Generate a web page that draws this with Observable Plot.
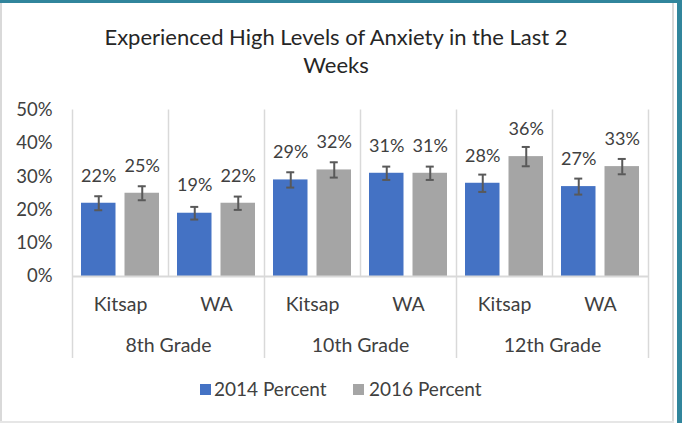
<!DOCTYPE html>
<html>
<head>
<meta charset="utf-8">
<script src="https://cdn.jsdelivr.net/npm/d3@7"></script>
<script src="https://cdn.jsdelivr.net/npm/@observablehq/plot@0.6"></script>
<style>
  html, body { margin: 0; padding: 0; background: #fff; }
  #wrap { position: relative; width: 682px; height: 423px; overflow: hidden; background: #fff; font-family: Lato, "Open Sans", sans-serif; }
  #title { position: absolute; left: 0; top: 23px; width: 672px; text-align: center; font-size: 22px; line-height: 28px; color: #262626; }
  #chart { position: absolute; left: 0; top: 90px; }
  #legend { position: absolute; left: 0; top: 378px; width: 682px; height: 22px; font-size: 19px; color: #404040; }
  .sw { position: absolute; top: 6px; width: 11px; height: 11px; }
  .lt { position: absolute; top: 0; line-height: 22px; white-space: nowrap; }
  .deco { position: absolute; }
</style>
</head>
<body>
<div id="wrap">
  <div class="deco" style="left:0;top:0;width:682px;height:3px;background:#31859c;"></div>
  <div class="deco" style="left:677px;top:0;width:5px;height:423px;background:#31859c;"></div>
  <div class="deco" style="left:672px;top:3px;width:2px;height:420px;background:#d9d9d9;"></div>
  <div class="deco" style="left:0;top:3px;width:2px;height:420px;background:#d9d9d9;"></div>
  <div class="deco" style="left:0;top:421px;width:674px;height:2px;background:#e6e6e6;"></div>
  <div id="title">Experienced High Levels of Anxiety in the Last 2<br>Weeks</div>
  <div id="chart"></div>
  <div id="legend"></div>
</div>
<script>
// ---- data ----
const grades = ["8th Grade", "10th Grade", "12th Grade"];
const regions = ["Kitsap", "WA"];
const series = ["2014 Percent", "2016 Percent"];
const pct2014 = [22, 19, 29, 31, 28, 27];
const pct2016 = [25, 22, 32, 31, 36, 33];
const err2014 = [2.1, 1.9, 2.3, 2.0, 2.6, 2.4];
const err2016 = [2.1, 2.0, 2.3, 2.0, 2.9, 2.3];
const yTicks = [0, 10, 20, 30, 40, 50];
const colors = ["#4472C4", "#A5A5A5"];

// ---- table built from the arrays ----
const rows = [];
grades.forEach((g, gi) => regions.forEach((r, ri) => {
  const i = gi * regions.length + ri;
  rows.push({key: g + "|" + r, grade: g, region: r, first: ri === 0,
    v2014: pct2014[i], v2016: pct2016[i], e2014: err2014[i], e2016: err2016[i]});
}));
const keys = rows.map(d => d.key);

// ---- layout ----
const W = 682, H = 285, mL = 72, mR = 34, mT = 19.5, mB = 99;
const bw = (W - mL - mR) / keys.length;       // band width
const pad = 9, barW = (bw - 3 * pad) / 2;      // bar geometry inside a band
const off = pad + barW / 2 - bw / 2;           // bar centre offset from band centre
const cap = 4;
const grid = "#d9d9d9", ink = "#404040", errInk = "#595959";
const axisFont = 19.5;

const chart = Plot.plot({
  width: W, height: H,
  marginLeft: mL, marginRight: mR, marginTop: mT, marginBottom: mB,
  style: {fontFamily: "Lato, 'Open Sans', sans-serif", color: ink, background: "transparent", overflow: "visible"},
  x: {type: "band", domain: keys, padding: 0, axis: null},
  y: {domain: [0, 50], axis: null},
  marks: [
    // separators
    Plot.ruleX(rows.filter(d => !d.first), {x: "key", dx: -bw / 2, y1: 50, y2: 0, stroke: grid, strokeWidth: 1.5}),
    Plot.ruleX(rows.filter(d => d.first), {x: "key", dx: -bw / 2, y1: 50, y2: 0, insetBottom: -82, stroke: grid, strokeWidth: 1.5}),
    Plot.ruleX([keys[keys.length - 1]], {x: d => d, dx: bw / 2, y1: 50, y2: 0, insetBottom: -82, stroke: grid, strokeWidth: 1.5}),
    // bars
    Plot.barY(rows, {x: "key", y: "v2014", fill: colors[0], insetLeft: pad, insetRight: bw - pad - barW}),
    Plot.barY(rows, {x: "key", y: "v2016", fill: colors[1], insetLeft: bw - pad - barW, insetRight: pad}),
    Plot.ruleY([0], {stroke: grid, strokeWidth: 2}),
    // error bars
    Plot.ruleX(rows, {x: "key", dx: off, y1: d => d.v2014 - d.e2014, y2: d => d.v2014 + d.e2014, stroke: errInk, strokeWidth: 2}),
    Plot.ruleX(rows, {x: "key", dx: -off, y1: d => d.v2016 - d.e2016, y2: d => d.v2016 + d.e2016, stroke: errInk, strokeWidth: 2}),
    Plot.tickY(rows, {x: "key", y: d => d.v2014 + d.e2014, insetLeft: pad + barW / 2 - cap, insetRight: bw - pad - barW / 2 - cap, stroke: errInk, strokeWidth: 2}),
    Plot.tickY(rows, {x: "key", y: d => d.v2014 - d.e2014, insetLeft: pad + barW / 2 - cap, insetRight: bw - pad - barW / 2 - cap, stroke: errInk, strokeWidth: 2}),
    Plot.tickY(rows, {x: "key", y: d => d.v2016 + d.e2016, insetRight: pad + barW / 2 - cap, insetLeft: bw - pad - barW / 2 - cap, stroke: errInk, strokeWidth: 2}),
    Plot.tickY(rows, {x: "key", y: d => d.v2016 - d.e2016, insetRight: pad + barW / 2 - cap, insetLeft: bw - pad - barW / 2 - cap, stroke: errInk, strokeWidth: 2}),
    // data labels
    Plot.text(rows, {x: "key", y: "v2014", dx: off, dy: -27.5, text: d => d.v2014 + "%", fontSize: 18, fill: ink, lineAnchor: "middle"}),
    Plot.text(rows, {x: "key", y: "v2016", dx: -off, dy: -27.5, text: d => d.v2016 + "%", fontSize: 18, fill: ink, lineAnchor: "middle"}),
    // y tick labels
    Plot.text(yTicks, {x: () => keys[0], y: d => d, dx: -bw / 2 - 20, text: d => d + "%", textAnchor: "end", fontSize: 18.5, fill: ink, lineAnchor: "middle"}),
    // x axis: regions and grades
    Plot.text(rows, {x: "key", frameAnchor: "bottom", dy: 28, text: "region", fontSize: axisFont, fill: ink, lineAnchor: "middle"}),
    Plot.text(rows.filter(d => d.first), {x: "key", frameAnchor: "bottom", dx: bw / 2, dy: 69, text: "grade", fontSize: axisFont, fill: ink, lineAnchor: "middle"})
  ]
});
document.getElementById("chart").appendChild(chart);

// ---- legend ----
const legend = document.getElementById("legend");
const legendPos = [[200, 214], [353, 369]];
series.forEach((s, i) => {
  const sw = document.createElement("div");
  sw.className = "sw"; sw.style.left = legendPos[i][0] + "px"; sw.style.background = colors[i];
  const t = document.createElement("div");
  t.className = "lt"; t.style.left = legendPos[i][1] + "px"; t.textContent = s;
  legend.appendChild(sw); legend.appendChild(t);
});
</script>
</body>
</html>
